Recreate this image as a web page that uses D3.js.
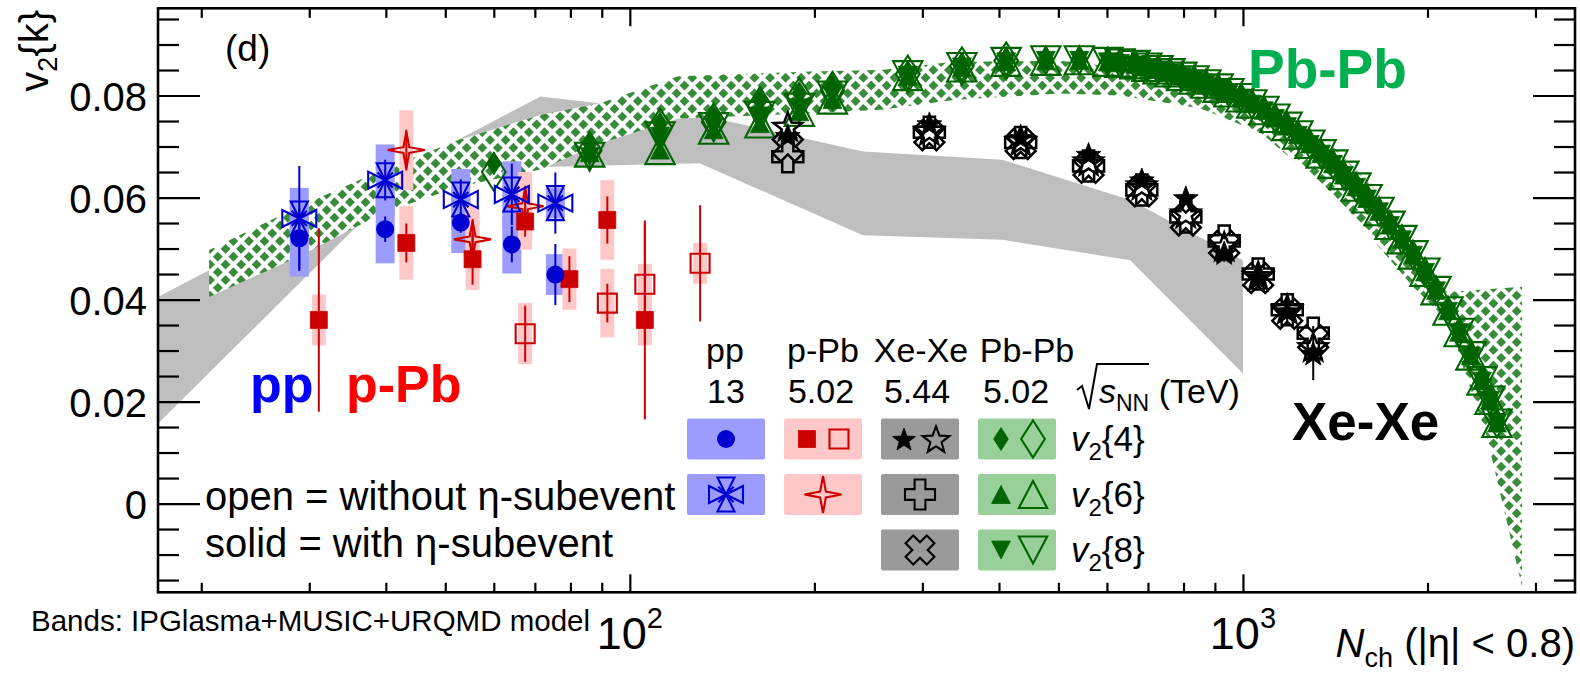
<!DOCTYPE html>
<html>
<head>
<meta charset="utf-8">
<script src="https://cdn.jsdelivr.net/npm/d3@7"></script>
<style>
  html, body { margin: 0; padding: 0; background: #fff; }
  svg { display: block; font-family: "Liberation Sans", Arial, Helvetica, sans-serif; }
</style>
</head>
<body>
<svg id="chart" width="1580" height="674"></svg>
<script>
// ---------------- data ----------------
// pp 13 TeV
const ppNch      = [28.9, 39.9, 53.0, 64.2, 75.6];
const ppV24      = [0.0520, 0.0538, 0.0551, 0.0508, 0.0449];
const ppV24Stat  = [0.0060, 0.0025, 0.0020, 0.0035, 0.0060];
const ppV24Syst  = [0.0075, 0.0067, 0.0060, 0.0057, 0.0040];
const ppV26      = [0.0559, 0.0634, 0.0596, 0.0606, 0.0589];
const ppV26Stat  = [0.0103, 0.0040, 0.0040, 0.0060, 0.0060];
const ppV26Syst  = [0.0060, 0.0070, 0.0060, 0.0065, 0.0030];

// p-Pb 5.02 TeV
const pPbNch        = [31.1, 43.2, 55.4, 67.5, 79.7, 91.9, 105.8];
const pPbV24Sub     = [0.0360, 0.0511, 0.0479, 0.0553, 0.0440, 0.0556, 0.0360];
const pPbV24SubStat = [0.0180, 0.0038, 0.0050, 0.0030, 0.0045, 0.0046, 0.0195];
const pPbV24SubSyst = [0.0050, 0.0072, 0.0060, 0.0055, 0.0060, 0.0078, 0.0050];
const pPbOpenNch    = [67.5, 91.9, 105.8, 130.2];
const pPbV24        = [0.0333, 0.0393, 0.0430, 0.0471];
const pPbV24Stat    = [0.0055, 0.0038, 0.0120, 0.0114];
const pPbV24Syst    = [0.0060, 0.0067, 0.0040, 0.0040];
const pPbStarNch    = [43.2, 55.4, 67.5];
const pPbV26        = [0.0693, 0.0518, 0.0583];
const pPbV26Stat    = [0.0040, 0.0040, 0.0040];
const pPbV26Syst    = [0.0078, 0.0065, 0.0067];

// Xe-Xe 5.44 TeV
const xexeNch     = [181, 308, 434, 560, 684, 807, 932, 1059, 1181, 1302];
const xexeV24Sub  = [0.0722, 0.0745, 0.0718, 0.0685, 0.0635, 0.0600, 0.0492, 0.0445, 0.0378, 0.0295];
const xexeV24     = [0.0740, 0.0732, 0.0712, 0.0672, 0.0625, 0.0570, 0.0505, 0.0447, 0.0382, 0.0308];
const xexeV26     = [0.0680, 0.0728, 0.0708, 0.0662, 0.0615, 0.0562, 0.0515, 0.0450, 0.0380, 0.0334];
const xexeV28     = [0.0700, 0.0722, 0.0705, 0.0658, 0.0612, 0.0555, 0.0505, 0.0442, 0.0372, 0.0320];
const xexeStat    = [0.0012, 0.0010, 0.0010, 0.0012, 0.0012, 0.0015, 0.0018, 0.0020, 0.0025, 0.0053];

// Pb-Pb 5.02 TeV
const pbpbNch = [60, 86, 112, 137, 163, 189, 214, 284, 348, 411,
                 477, 541, 602, 630, 667, 697, 727, 760, 795, 832,
                 870, 911, 949, 993, 1034, 1082, 1128, 1180, 1229, 1286,
                 1341, 1402, 1461, 1529, 1594, 1667, 1737, 1817, 1894, 1981,
                 2065, 2160, 2252, 2354, 2454, 2529, 2596];
const pbpbV24 = [0.0667, 0.0706, 0.0745, 0.0758, 0.0790, 0.0805, 0.0818, 0.0846, 0.0862, 0.0872,
                 0.0874, 0.0874, 0.0870, 0.0868, 0.0865, 0.0860, 0.0855, 0.0849, 0.0842, 0.0835,
                 0.0827, 0.0819, 0.0810, 0.0800, 0.0788, 0.0775, 0.0760, 0.0744, 0.0727, 0.0709,
                 0.0690, 0.0670, 0.0648, 0.0625, 0.0602, 0.0577, 0.0550, 0.0522, 0.0492, 0.0458,
                 0.0422, 0.0382, 0.0340, 0.0294, 0.0245, 0.0207, 0.0162];
const pbpbV24Open = [0.0650, 0.0692, 0.0738, 0.0748, 0.0780, 0.0798, 0.0810, 0.0842, 0.0858, 0.0868];
const pbpbV26 = [null, 0.0688, 0.0693, 0.0733, 0.0745, 0.0768, 0.0792, 0.0838, 0.0855, 0.0866,
                 0.0868, 0.0869, 0.0866, 0.0864, 0.0861, 0.0856, 0.0851, 0.0845, 0.0838, 0.0831,
                 0.0823, 0.0815, 0.0806, 0.0796, 0.0784, 0.0771, 0.0756, 0.0740, 0.0723, 0.0705,
                 0.0686, 0.0666, 0.0644, 0.0621, 0.0598, 0.0573, 0.0546, 0.0518, 0.0488, 0.0454,
                 0.0418, 0.0378, 0.0336, 0.0290, 0.0241, 0.0203, 0.0158];
const pbpbV28 = [null, 0.0680, 0.0720, 0.0738, 0.0760, 0.0776, 0.0800, 0.0840, 0.0856, 0.0866,
                 0.0869, 0.0869, 0.0866, 0.0863, 0.0860, 0.0855, 0.0850, 0.0844, 0.0837, 0.0830,
                 0.0822, 0.0814, 0.0805, 0.0795, 0.0783, 0.0770, 0.0755, 0.0739, 0.0722, 0.0704,
                 0.0685, 0.0665, 0.0643, 0.0620, 0.0597, 0.0572, 0.0545, 0.0517, 0.0487, 0.0453,
                 0.0417, 0.0377, 0.0335, 0.0289, 0.0240, 0.0202, 0.0157];

// IPGlasma+MUSIC+URQMD model bands
const xeModelNch = [17, 40, 71.5, 130, 240, 405, 655, 1000];
const xeModelHi  = [0.0405, 0.0639, 0.0798, 0.0762, 0.0690, 0.0674, 0.0595, 0.0477];
const xeModelLo  = [0.0157, 0.0600, 0.0660, 0.0667, 0.0526, 0.0517, 0.0477, 0.0255];
const pbModelNch = [20.6, 28.8, 39.5, 52.6, 71.5, 89.4, 120, 197, 257, 337,
                    503, 630, 851, 1066, 1402, 1630, 1894, 2152, 2500, 2852];
const pbModelHi  = [0.0497, 0.0582, 0.0654, 0.0713, 0.0762, 0.0785, 0.0838, 0.0847, 0.0850, 0.0866,
                    0.0868, 0.0855, 0.0835, 0.0795, 0.0700, 0.0620, 0.0500, 0.0415, 0.0420, 0.0425];
const pbModelLo  = [0.0405, 0.0484, 0.0569, 0.0621, 0.0655, 0.0706, 0.0755, 0.0765, 0.0772, 0.0791,
                    0.0804, 0.0800, 0.0775, 0.0728, 0.0608, 0.0517, 0.0425, 0.0360, 0.0131, -0.0163];

// axis ticks
const yMajor = [0, 0.02, 0.04, 0.06, 0.08];
const yMinor = [-0.015, -0.01, -0.005, 0.005, 0.01, 0.015, 0.025, 0.03, 0.035, 0.045, 0.05, 0.055,
                0.065, 0.07, 0.075, 0.085, 0.09, 0.095];
const xMajor = [100, 1000];
const xMajorExp = ["2", "3"];
const xMinor = [20, 30, 40, 50, 60, 70, 80, 90, 200, 300, 400, 500, 600, 700, 800, 900, 2000, 3000];

// ---------------- layout ----------------
const L = 158, R = 1575, T = 8.3, B = 592.3;
const x = d3.scaleLog().domain([17, 3480]).range([L, R]);
const y = d3.scaleLinear().domain([-0.0174, 0.0971]).range([B, T]);

const BLUE = "#0000d0", BLUE_BOX = "#9c9cff";
const RED = "#cc0000", PINK_BOX = "#ffc8c8";
const GREEN = "#006400", GREEN_BOX = "#99d099";
const GREY_BOX = "#9a9a9a";

const svg = d3.select("#chart");
svg.append("rect").attr("width", 1580).attr("height", 674).attr("fill", "#fff");

const defs = svg.append("defs");
defs.append("clipPath").attr("id", "plotClip")
  .append("rect").attr("x", L).attr("y", T).attr("width", R - L).attr("height", B - T);
// diamond lattice fill for the Pb-Pb model band
const P = 11;
const pat = defs.append("pattern").attr("id", "hatch")
  .attr("patternUnits", "userSpaceOnUse").attr("width", P).attr("height", P)
  .attr("patternTransform", "rotate(45)");
pat.append("rect").attr("width", P).attr("height", P).attr("fill", "#fff");
pat.append("rect").attr("x", 2).attr("y", 2).attr("width", 7).attr("height", 7).attr("fill", "#388b38");

// ---------------- marker shapes ----------------
function shape(type, s) {
  const h = s / 2;
  if (type === "square") return `M${-h},${-h}H${h}V${h}H${-h}Z`;
  if (type === "diamond") { const w = s * 0.32; return `M0,${-h}L${w},0L0,${h}L${-w},0Z`; }
  if (type === "triUp") return `M0,${-h}L${h * 1.05},${h}L${-h * 1.05},${h}Z`;
  if (type === "triDown") return `M0,${h}L${h * 1.05},${-h}L${-h * 1.05},${-h}Z`;
  if (type === "plus") {
    const a = s * 0.18;
    return `M${-a},${-h}H${a}V${-a}H${h}V${a}H${a}V${h}H${-a}V${a}H${-h}V${-a}H${-a}Z`;
  }
  if (type === "star5") {
    const pts = d3.range(10).map(k => {
      const ang = -Math.PI / 2 + k * Math.PI / 5, rr = k % 2 ? h * 0.42 : h;
      return [rr * Math.cos(ang), rr * Math.sin(ang) + h * 0.1];
    });
    return "M" + pts.map(p => p.join(",")).join("L") + "Z";
  }
  if (type === "star4") {
    const pts = d3.range(8).map(k => {
      const ang = -Math.PI / 2 + k * Math.PI / 4, rr = k % 2 ? h * 0.22 : h;
      return [rr * Math.cos(ang), rr * Math.sin(ang)];
    });
    return "M" + pts.map(p => p.join(",")).join("L") + "Z";
  }
  if (type === "fourTriX") {
    const a = h * 0.5, d = h * 0.45;
    return `M0,0L${-a},${-h}L${a},${-h}Z M0,0L${-a},${h}L${a},${h}Z` +
           `M0,0L${-h},${-a}L${-h},${a}Z M0,0L${h},${-a}L${h},${a}Z` +
           `M${-d},${-d}L${d},${d}M${-d},${d}L${d},${-d}`;
  }
  return "";
}

function markers(g, nch, vals, type, size, filled, color, rot, sw) {
  const pts = nch.map((n, i) => ({ n, v: vals[i] })).filter(d => d.v !== null);
  g.selectAll(null).data(pts).enter().append("path")
    .attr("transform", d => `translate(${x(d.n)},${y(d.v)})` + (rot ? ` rotate(${rot})` : ""))
    .attr("d", shape(type, size))
    .attr("fill", filled ? color : "none")
    .attr("stroke", color)
    .attr("stroke-width", filled ? 0.8 : (sw || 2.1))
    .attr("stroke-linejoin", "miter");
}
function circles(g, nch, vals, r, color) {
  g.selectAll(null).data(nch.map((n, i) => ({ n, v: vals[i] }))).enter().append("circle")
    .attr("cx", d => x(d.n)).attr("cy", d => y(d.v)).attr("r", r).attr("fill", color);
}
function systBoxes(g, nch, vals, syst, w, color) {
  g.selectAll(null).data(nch.map((n, i) => ({ n, v: vals[i], e: syst[i] }))).enter().append("rect")
    .attr("x", d => x(d.n) - w / 2).attr("width", w)
    .attr("y", d => y(d.v + d.e)).attr("height", d => y(d.v - d.e) - y(d.v + d.e))
    .attr("fill", color);
}
function statBars(g, nch, vals, stat, color) {
  g.selectAll(null).data(nch.map((n, i) => ({ n, v: vals[i], e: stat[i] }))).enter().append("line")
    .attr("x1", d => x(d.n)).attr("x2", d => x(d.n))
    .attr("y1", d => y(d.v + d.e)).attr("y2", d => y(d.v - d.e))
    .attr("stroke", color).attr("stroke-width", 2);
}

// ---------------- plot area ----------------
const plot = svg.append("g").attr("clip-path", "url(#plotClip)");
const band = d3.area().x(d => x(d.n)).y0(d => y(d.lo)).y1(d => y(d.hi));

plot.append("path")
  .datum(xeModelNch.map((n, i) => ({ n, lo: xeModelLo[i], hi: xeModelHi[i] })))
  .attr("d", band).attr("fill", "#bebebe");
plot.append("path")
  .datum(pbModelNch.map((n, i) => ({ n, lo: pbModelLo[i], hi: pbModelHi[i] })))
  .attr("d", band).attr("fill", "url(#hatch)");

// systematic uncertainties
const sys = plot.append("g");
systBoxes(sys, ppNch, ppV24, ppV24Syst, 19, BLUE_BOX);
systBoxes(sys, ppNch, ppV26, ppV26Syst, 19, BLUE_BOX);
systBoxes(sys, pPbNch, pPbV24Sub, pPbV24SubSyst, 14, PINK_BOX);
systBoxes(sys, pPbOpenNch, pPbV24, pPbV24Syst, 14, PINK_BOX);
systBoxes(sys, pPbStarNch, pPbV26, pPbV26Syst, 14, PINK_BOX);

// statistical uncertainties
const st = plot.append("g");
statBars(st, ppNch, ppV26, ppV26Stat, BLUE);
statBars(st, ppNch, ppV24, ppV24Stat, BLUE);
statBars(st, pPbNch, pPbV24Sub, pPbV24SubStat, RED);
statBars(st, pPbOpenNch, pPbV24, pPbV24Stat, RED);
statBars(st, pPbStarNch, pPbV26, pPbV26Stat, RED);
statBars(st, xexeNch, xexeV24Sub, xexeStat, "#000");

// Pb-Pb
const gPb = plot.append("g");
markers(gPb, pbpbNch.slice(0, 10), pbpbV24Open, "diamond", 37, false, GREEN);
markers(gPb, pbpbNch, pbpbV24, "diamond", 23, true, GREEN);
markers(gPb, pbpbNch, pbpbV26, "triUp", 18, true, GREEN);
markers(gPb, pbpbNch, pbpbV26, "triUp", 28, false, GREEN);
markers(gPb, pbpbNch, pbpbV28, "triDown", 18, true, GREEN);
markers(gPb, pbpbNch, pbpbV28, "triDown", 28, false, GREEN);

// Xe-Xe
const gXe = plot.append("g");
markers(gXe, xexeNch, xexeV26, "plus", 31, false, "#000", 0, 2.5);
markers(gXe, xexeNch, xexeV28, "plus", 31, false, "#000", 45, 2.5);
markers(gXe, xexeNch, xexeV24, "star5", 30, false, "#000", 0, 2.5);
markers(gXe, xexeNch, xexeV24Sub, "star5", 26, true, "#000");

// p-Pb
const gP = plot.append("g");
markers(gP, pPbOpenNch, pPbV24, "square", 19, false, RED);
markers(gP, pPbNch, pPbV24Sub, "square", 17, true, RED);
markers(gP, pPbStarNch, pPbV26, "star4", 37, false, RED);

// pp
const gpp = plot.append("g");
circles(gpp, ppNch, ppV24, 9, BLUE);
markers(gpp, ppNch, ppV26, "fourTriX", 34, false, BLUE);

// ---------------- axes ----------------
function styleAxis(g) {
  g.select(".domain").remove();
  g.selectAll(".tick line").attr("stroke", "#000").attr("stroke-width", 2.2);
}
const fmtY = d => d === 0 ? "0" : d3.format(".2f")(d);

svg.append("g").attr("transform", `translate(${L},0)`)
  .call(d3.axisLeft(y).tickValues(yMinor).tickSize(-21).tickFormat("")).call(styleAxis);
const yAx = svg.append("g").attr("transform", `translate(${L},0)`)
  .call(d3.axisLeft(y).tickValues(yMajor).tickSize(-42).tickPadding(11).tickFormat(fmtY)).call(styleAxis);
yAx.selectAll("text").attr("font-size", 40).attr("font-family", "Liberation Sans, Arial, sans-serif")
  .attr("dy", "0.37em").attr("fill", "#000");
svg.append("g").attr("transform", `translate(${R},0)`)
  .call(d3.axisRight(y).tickValues(yMinor).tickSize(-21).tickFormat("")).call(styleAxis);
svg.append("g").attr("transform", `translate(${R},0)`)
  .call(d3.axisRight(y).tickValues(yMajor).tickSize(-42).tickFormat("")).call(styleAxis);

svg.append("g").attr("transform", `translate(0,${B})`)
  .call(d3.axisBottom(x).tickValues(xMinor).tickSize(-9.5).tickFormat("")).call(styleAxis);
svg.append("g").attr("transform", `translate(0,${B})`)
  .call(d3.axisBottom(x).tickValues(xMajor).tickSize(-18).tickFormat("")).call(styleAxis);
svg.append("g").attr("transform", `translate(0,${T})`)
  .call(d3.axisTop(x).tickValues(xMinor).tickSize(-9.5).tickFormat("")).call(styleAxis);
svg.append("g").attr("transform", `translate(0,${T})`)
  .call(d3.axisTop(x).tickValues(xMajor).tickSize(-18).tickFormat("")).call(styleAxis);

// decade labels 10^2, 10^3
xMajor.forEach((v, i) => {
  const t = svg.append("text").attr("x", x(v)).attr("y", 649).attr("text-anchor", "middle")
    .attr("font-size", 45).attr("fill", "#000");
  t.append("tspan").text("10");
  t.append("tspan").attr("dy", -21).attr("font-size", 29).text(xMajorExp[i]);
});

// frame
svg.append("rect").attr("x", L).attr("y", T).attr("width", R - L).attr("height", B - T)
  .attr("fill", "none").attr("stroke", "#000").attr("stroke-width", 2.6);

// axis titles
const yt = svg.append("text").attr("transform", "translate(48,10) rotate(-90)")
  .attr("text-anchor", "end").attr("font-size", 40).attr("fill", "#000");
yt.append("tspan").text("v");
yt.append("tspan").attr("dy", 9).attr("font-size", 27).text("2");
yt.append("tspan").attr("dy", -9).text("{k}");

const xt = svg.append("text").attr("x", R).attr("y", 657).attr("text-anchor", "end")
  .attr("font-size", 40).attr("fill", "#000");
xt.append("tspan").attr("font-style", "italic").text("N");
xt.append("tspan").attr("dy", 10).attr("font-size", 27).text("ch");
xt.append("tspan").attr("dy", -10).text(" (|\u03b7| < 0.8)");

// panel tag and system labels
svg.append("text").attr("x", 225).attr("y", 61).attr("font-size", 37).text("(d)");
svg.append("text").attr("x", 250).attr("y", 402).attr("font-size", 52).attr("font-weight", "bold")
  .attr("fill", "#0000ff").text("pp");
svg.append("text").attr("x", 346).attr("y", 402).attr("font-size", 52).attr("font-weight", "bold")
  .attr("fill", "#ff0000").text("p-Pb");
svg.append("text").attr("x", 1248).attr("y", 88).attr("font-size", 55).attr("font-weight", "bold")
  .attr("fill", "#00b050").text("Pb-Pb");
svg.append("text").attr("x", 1292).attr("y", 440).attr("font-size", 53).attr("font-weight", "bold")
  .attr("fill", "#000").text("Xe-Xe");

svg.append("text").attr("x", 205).attr("y", 510).attr("font-size", 40).text("open = without \u03b7-subevent");
svg.append("text").attr("x", 205).attr("y", 557).attr("font-size", 40).text("solid = with \u03b7-subevent");
svg.append("text").attr("x", 31).attr("y", 631).attr("font-size", 29.5).text("Bands: IPGlasma+MUSIC+URQMD model");

// ---------------- legend ----------------
const legSystems  = ["pp", "p-Pb", "Xe-Xe", "Pb-Pb"];
const legEnergies = ["13", "5.02", "5.44", "5.02"];
const legOrders   = ["4", "6", "8"];
const colX = [726, 823, 920, 1017];
const headX = [725, 823, 921, 1027];
const energyX = [726, 821, 917, 1016];
const rowY = [439, 494.5, 550];
const boxW = 78, boxH = 41;

const leg = svg.append("g");
legSystems.forEach((s, i) => {
  leg.append("text").attr("x", headX[i]).attr("y", 362).attr("text-anchor", "middle").attr("font-size", 34).text(s);
  leg.append("text").attr("x", energyX[i]).attr("y", 403).attr("text-anchor", "middle").attr("font-size", 34).text(legEnergies[i]);
});
// sqrt(s_NN) (TeV)
leg.append("path").attr("d", "M1077,390 L1082,386 L1089,409 L1097,364 L1149,364")
  .attr("fill", "none").attr("stroke", "#000").attr("stroke-width", 2);
const sq = leg.append("text").attr("x", 1099).attr("y", 403).attr("font-size", 34);
sq.append("tspan").attr("font-style", "italic").text("s");
sq.append("tspan").attr("dy", 8).attr("font-size", 23).text("NN");
sq.append("tspan").attr("dy", -8).text(" (TeV)");

const boxes = [
  [0, 0, BLUE_BOX], [0, 1, BLUE_BOX],
  [1, 0, PINK_BOX], [1, 1, PINK_BOX],
  [2, 0, GREY_BOX], [2, 1, GREY_BOX], [2, 2, GREY_BOX],
  [3, 0, GREEN_BOX], [3, 1, GREEN_BOX], [3, 2, GREEN_BOX]
];
leg.selectAll(null).data(boxes).enter().append("rect")
  .attr("x", d => colX[d[0]] - boxW / 2).attr("y", d => rowY[d[1]] - boxH / 2)
  .attr("width", boxW).attr("height", boxH).attr("rx", 2).attr("fill", d => d[2]);

function legMark(cx, cy, type, size, filled, color, rot) {
  leg.append("path").attr("transform", `translate(${cx},${cy})` + (rot ? ` rotate(${rot})` : ""))
    .attr("d", shape(type, size)).attr("fill", filled ? color : "none")
    .attr("stroke", color).attr("stroke-width", filled ? 0.8 : 2.1);
}
leg.append("circle").attr("cx", colX[0]).attr("cy", rowY[0]).attr("r", 9).attr("fill", BLUE);
legMark(colX[0], rowY[1], "fourTriX", 34, false, BLUE);
legMark(colX[1] - 16, rowY[0], "square", 17, true, RED);
legMark(colX[1] + 16, rowY[0], "square", 19, false, RED);
legMark(colX[1], rowY[1], "star4", 37, false, RED);
legMark(colX[2] - 16, rowY[0], "star5", 24, true, "#000");
legMark(colX[2] + 16, rowY[0], "star5", 28, false, "#000");
legMark(colX[2], rowY[1], "plus", 30, false, "#000");
legMark(colX[2], rowY[2], "plus", 30, false, "#000", 45);
legMark(colX[3] - 16, rowY[0], "diamond", 23, true, GREEN);
legMark(colX[3] + 16, rowY[0], "diamond", 37, false, GREEN);
legMark(colX[3] - 16, rowY[1], "triUp", 18, true, GREEN);
legMark(colX[3] + 16, rowY[1], "triUp", 27, false, GREEN);
legMark(colX[3] - 16, rowY[2], "triDown", 18, true, GREEN);
legMark(colX[3] + 16, rowY[2], "triDown", 27, false, GREEN);

legOrders.forEach((k, i) => {
  const t = leg.append("text").attr("x", 1071).attr("y", rowY[i] + 12).attr("font-size", 35);
  t.append("tspan").attr("font-style", "italic").text("v");
  t.append("tspan").attr("dy", 9).attr("font-size", 24).text("2");
  t.append("tspan").attr("dy", -9).text(`{${k}}`);
});
</script>
</body>
</html>
